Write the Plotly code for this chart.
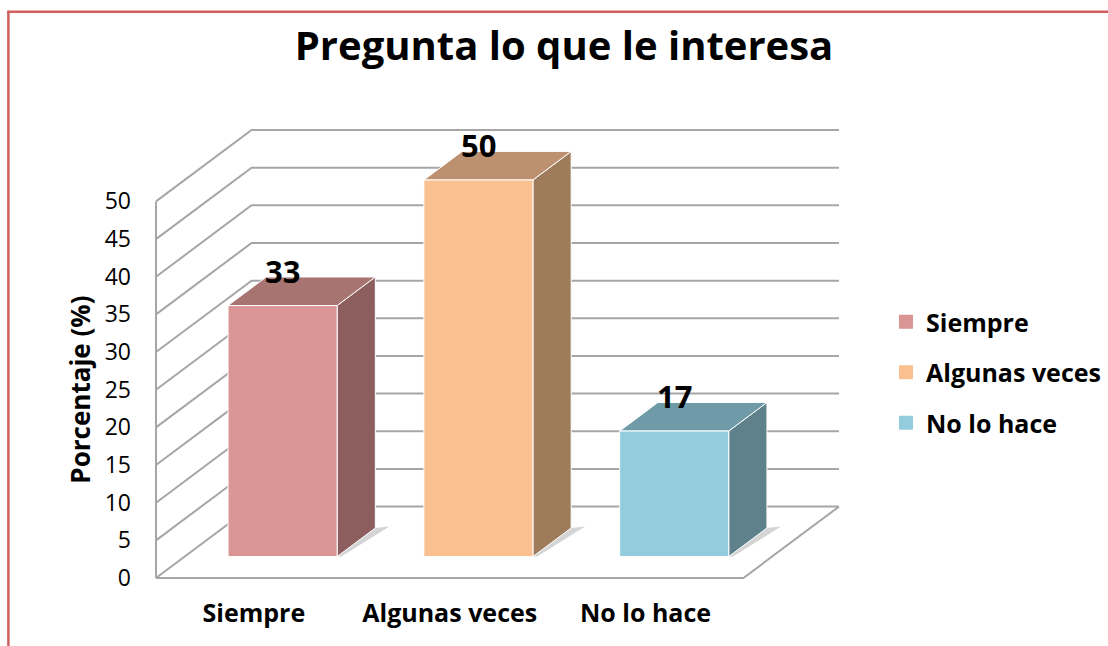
import plotly.graph_objects as go

# ---------------- data ----------------
categories = ["Siempre", "Algunas veces", "No lo hace"]
values = [33.33, 50.0, 16.67]
y_ticks = [0, 5, 10, 15, 20, 25, 30, 35, 40, 45, 50]
title_text = "Pregunta lo que le interesa"
y_title = "Porcentaje (%)"

# ---------------- styles ----------------
face_colors = ["#D99694", "#FAC08F", "#93CDDD"]
side_colors = ["#8C5E5D", "#9E7B5A", "#5E818B"]
top_colors = ["#A77472", "#BD9170", "#6E9BA7"]
grid_color = "#A6A6A6"
border_color = "#D0605E"
FONT = "Open Sans"

# ---------------- geometry (pixels) ----------------
W, H = 1108, 646
FRONT_X_PX = 156.0
FLOOR_Y_PX = 578.0
SLOT_PX = 195.67
UNIT_PX = 7.54
DEPTH_DX_PX = 95.5
DEPTH_DY_PX = 71.5
PAD = 4.0
BAR_W = 0.557
D0, D1 = 0.30, 0.70
SHADOW_PX = 14.0

n = len(categories)
ymax = max(y_ticks)
DX = DEPTH_DX_PX / SLOT_PX
DY = DEPTH_DY_PX / UNIT_PX

ml = FRONT_X_PX - PAD
mb = H - FLOOR_Y_PX - PAD
pw = n * SLOT_PX + DEPTH_DX_PX + 2 * PAD
ph = ymax * UNIT_PX + DEPTH_DY_PX + 2 * PAD
mr = W - ml - pw
mt = H - mb - ph

fig = go.Figure()

# walls / floor / gridlines
xs, ys = [], []
for v in y_ticks:
    xs += [0, DX, n + DX, None]
    ys += [v, v + DY, v + DY, None]
xs += [0, 0, None, 0, n, n + DX, None]
ys += [0, ymax, None, 0, 0, DY, None]
fig.add_trace(go.Scatter(x=xs, y=ys, mode="lines",
                         line=dict(color=grid_color, width=2),
                         hoverinfo="skip", showlegend=False, cliponaxis=False))

# bars (oblique 3D projection)
a0, b0 = D0 * DX, D0 * DY
a1, b1 = D1 * DX, D1 * DY
sh = SHADOW_PX / SLOT_PX
for i, (cat, v) in enumerate(zip(categories, values)):
    left = i + (1 - BAR_W) / 2
    right = left + BAR_W
    # soft floor shadow
    fig.add_trace(go.Scatter(
        x=[right + a0, right + a1, right + a1 + sh, right + a0 + sh * 0.3, right + a0],
        y=[b0, b1, b1 + 0.2, b0, b0], mode="lines", fill="toself",
        fillcolor="rgba(60,60,60,0.22)", line=dict(width=0),
        hoverinfo="skip", showlegend=False))
    faces = [
        ([right + a0, right + a1, right + a1, right + a0, right + a0],
         [b0, b1, v + b1, v + b0, b0], side_colors[i]),
        ([left + a0, right + a0, right + a1, left + a1, left + a0],
         [v + b0, v + b0, v + b1, v + b1, v + b0], top_colors[i]),
        ([left + a0, right + a0, right + a0, left + a0, left + a0],
         [b0, b0, v + b0, v + b0, b0], face_colors[i]),
    ]
    for fx, fy, col in faces:
        fig.add_trace(go.Scatter(x=fx, y=fy, mode="lines", fill="toself",
                                 fillcolor=col, line=dict(color="white", width=1),
                                 hoverinfo="skip", showlegend=False))
    # legend entry
    fig.add_trace(go.Scatter(x=[None], y=[None], mode="markers", name=cat,
                             legendgroup=cat,
                             marker=dict(symbol="square", size=14, color=face_colors[i])))
    # data label
    fig.add_annotation(x=i + 0.5 + a0, y=v + b1 + 6 / UNIT_PX, text=f"{round(v)}",
                       showarrow=False, xanchor="center", yanchor="middle",
                       font=dict(family=FONT, size=31, color="black", weight="bold"))

# axis title
fig.add_annotation(xref="paper", yref="y", x=(80 - ml) / pw, y=ymax / 2,
                   text=y_title, textangle=-90, showarrow=False,
                   xanchor="center", yanchor="middle",
                   font=dict(family=FONT, size=26, color="black", weight="bold"))

# frame border (red)
def px_x(p):
    return (p - ml) / pw

def px_y(p):
    return ((H - mb) - p) / ph

fig.add_shape(type="line", xref="paper", yref="paper",
              x0=px_x(7.5), x1=px_x(1120), y0=px_y(11), y1=px_y(11),
              line=dict(color=border_color, width=2.5))
fig.add_shape(type="line", xref="paper", yref="paper",
              x0=px_x(8.5), x1=px_x(8.5), y0=px_y(10), y1=px_y(660),
              line=dict(color=border_color, width=2.5))

fig.update_layout(
    width=W, height=H,
    margin=dict(l=ml, r=mr, t=mt, b=mb, autoexpand=False),
    paper_bgcolor="white", plot_bgcolor="white",
    title=dict(text=title_text, x=564 / W, xref="container", xanchor="center",
               y=1 - 46 / H, yref="container", yanchor="middle",
               font=dict(family=FONT, size=40, color="black", weight="bold")),
    xaxis=dict(range=[-PAD / SLOT_PX, n + DX + PAD / SLOT_PX],
               tickvals=[i + 0.5 for i in range(n)], ticktext=categories,
               showgrid=False, zeroline=False, showline=False, ticks="",
               ticklabelstandoff=14,
               tickfont=dict(family=FONT, size=25, color="black", weight="bold"),
               fixedrange=True),
    yaxis=dict(range=[-PAD / UNIT_PX, ymax + DY + PAD / UNIT_PX],
               tickvals=y_ticks, ticktext=[str(t) for t in y_ticks],
               showgrid=False, zeroline=False, showline=False, ticks="",
               ticklabelstandoff=20,
               tickfont=dict(family=FONT, size=23, color="black"),
               fixedrange=True),
    legend=dict(xref="container", yref="container", x=886 / W, y=1 - 299 / H,
                xanchor="left", yanchor="top", tracegroupgap=15,
                font=dict(family=FONT, size=25, color="black", weight="bold"),
                bgcolor="rgba(0,0,0,0)"),
    showlegend=True,
)

fig.write_html("out.html", config={"displayModeBar": False},
               post_script="document.body.style.margin='0';")
